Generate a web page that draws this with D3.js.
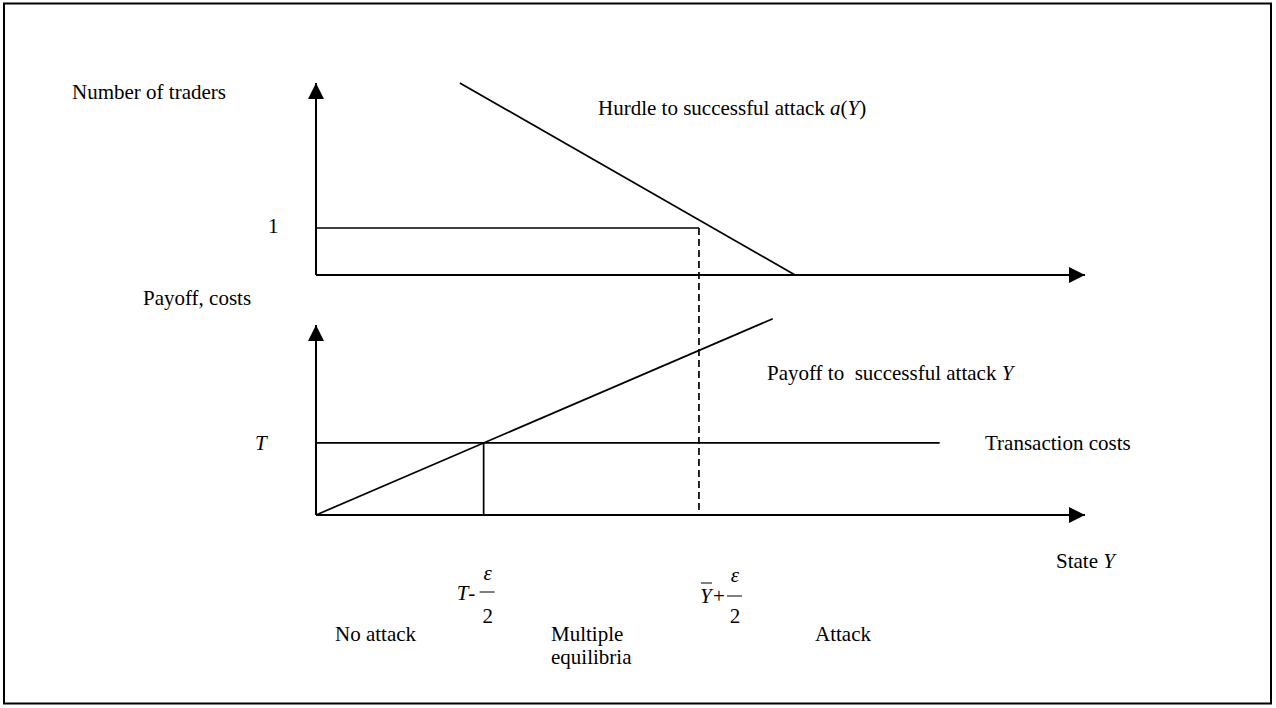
<!DOCTYPE html>
<html>
<head>
<meta charset="utf-8">
<script src="https://cdn.jsdelivr.net/npm/d3@7"></script>
<style>
  html, body { margin: 0; padding: 0; background: #fff; }
</style>
</head>
<body>
<svg></svg>
<script>
// state axis runs 0..100 (arrow tip)
const stateMax = 100;
const tradersMax = 4.085;   // top of upper y-axis
const payoffMax = 57.5;     // top of lower y-axis

// hurdle a(Y): falls from the top of the panel to zero
const hurdleState = [18.7, 62.3];
const hurdleValue = [4.085, 0];

// one trader level up to Y-bar + eps/2
const tradersLevel = 1;
const yBarPlusEps = 49.8;

// payoff Y (slope 1) and transaction costs T
const payoffState = [0, 59.4];
const T = 21.8;
const costsEnd = 81.1;

const font = '"Liberation Serif", "Times New Roman", Times, "DejaVu Serif", serif';

const svg = d3.select('svg');
const w = 1276;
const h = 708;
svg.attr('width', w).attr('height', h);

const x = d3.scaleLinear().domain([0, stateMax]).range([316, 1085]);
const yTop = d3.scaleLinear().domain([0, tradersMax]).range([275, 83]);
const yBot = d3.scaleLinear().domain([0, payoffMax]).range([515, 325]);

svg.append('defs')
  .append('marker')
  .attr('id', 'arrow')
  .attr('markerUnits', 'userSpaceOnUse')
  .attr('markerWidth', 16)
  .attr('markerHeight', 16)
  .attr('refX', 16)
  .attr('refY', 8)
  .attr('orient', 'auto')
  .append('path')
  .attr('d', 'M0,0L16,8L0,16Z')
  .attr('fill', '#000');

// frame
svg.append('rect')
  .attr('x', 4).attr('y', 3.5)
  .attr('width', 1267).attr('height', 700)
  .attr('fill', 'none').attr('stroke', '#000').attr('stroke-width', 2);

const axis = (x1, y1, x2, y2) =>
  svg.append('line')
    .attr('x1', x1).attr('y1', y1).attr('x2', x2).attr('y2', y2)
    .attr('stroke', '#000').attr('stroke-width', 2)
    .attr('marker-end', 'url(#arrow)');

axis(x(0), yTop(0), x(0), yTop(tradersMax));
axis(x(0), yTop(0), x(stateMax), yTop(0));
axis(x(0), yBot(0), x(0), yBot(payoffMax));
axis(x(0), yBot(0), x(stateMax), yBot(0));

const line = d3.line();
const draw = (pts, dash) =>
  svg.append('path')
    .attr('d', line(pts))
    .attr('fill', 'none').attr('stroke', '#000').attr('stroke-width', 1.7)
    .attr('stroke-dasharray', dash || null);

// upper panel
draw(hurdleState.map((s, i) => [x(s), yTop(hurdleValue[i])]));
draw([[x(0), yTop(tradersLevel)], [x(yBarPlusEps), yTop(tradersLevel)]]);

// lower panel
draw(payoffState.map((s) => [x(s), yBot(s)]));
draw([[x(0), yBot(T)], [x(costsEnd), yBot(T)]]);
draw([[x(T), yBot(T)], [x(T), yBot(0)]]);

// dashed link between the panels
draw([[x(yBarPlusEps), yTop(tradersLevel)], [x(yBarPlusEps), yBot(0)]], '7,4');

// labels
const label = (tx, ty, parts, anchor) => {
  const t = svg.append('text').attr('x', tx).attr('y', ty)
    .attr('font-family', font)
    .attr('font-size', 21)
    .attr('fill', '#000')
    .attr('text-anchor', anchor || 'start');
  parts.forEach((p) => {
    const s = t.append('tspan').text(p[0]);
    if (p[1]) s.attr('font-style', 'italic');
  });
  return t;
};

label(72, 99, [['Number of traders']]);
label(268, 233, [['1']]);
label(143, 305, [['Payoff, costs']]);
label(598, 115, [['Hurdle to successful attack '], ['a', 1], ['('], ['Y', 1], [')']]);
label(767, 380, [['Payoff to\u00a0 successful attack '], ['Y', 1]]);
label(255, 450, [['T', 1]]);
label(985, 450, [['Transaction costs']]);
label(1056, 568, [['State '], ['Y', 1]]);

// T - eps/2
label(x(T) - 27, 600, [['T', 1], ['-']]);
label(x(T) + 4, 580, [['\u03b5', 1]], 'middle');
svg.append('line')
  .attr('x1', x(T) - 4).attr('x2', x(T) + 11)
  .attr('y1', 592).attr('y2', 592)
  .attr('stroke', '#000').attr('stroke-width', 1);
label(x(T) + 4, 623, [['2']], 'middle');

// Y-bar + eps/2
const xb = x(yBarPlusEps);
label(xb + 1, 603, [['Y', 1]]);
svg.append('line')
  .attr('x1', xb + 2).attr('x2', xb + 13)
  .attr('y1', 583).attr('y2', 583)
  .attr('stroke', '#000').attr('stroke-width', 1);
label(xb + 14, 603, [['+']]);
label(xb + 36, 582, [['\u03b5', 1]], 'middle');
svg.append('line')
  .attr('x1', xb + 28).attr('x2', xb + 43)
  .attr('y1', 596).attr('y2', 596)
  .attr('stroke', '#000').attr('stroke-width', 1);
label(xb + 36, 623, [['2']], 'middle');

label(335, 641, [['No attack']]);
label(551, 641, [['Multiple']]);
label(551, 664, [['equilibria']]);
label(815, 641, [['Attack']]);
</script>
</body>
</html>
